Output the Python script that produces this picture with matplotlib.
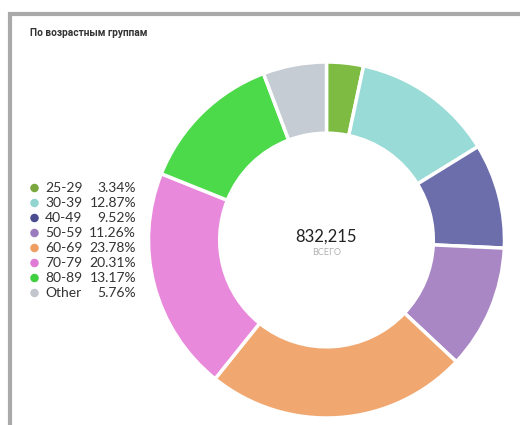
import matplotlib.pyplot as plt
from matplotlib.patches import Rectangle, Ellipse

plt.rcParams['font.family'] = ['Lato', 'DejaVu Sans']

groups = ['25-29', '30-39', '40-49', '50-59', '60-69', '70-79', '80-89', 'Other']
shares = [3.34, 12.87, 9.52, 11.26, 23.78, 20.31, 13.17, 5.76]
colors = ['#7dbb42', '#99dbd6', '#6b6eab', '#a887c4', '#f0a870', '#e889db', '#4cd94a', '#c5ccd3']
dot_colors = ['#7aa63e', '#92d4d0', '#4b4b8f', '#9a7bbd', '#ee9e62', '#e07ad6', '#3fcf3f', '#c2c6cc']
total = '832,215'
title = 'По возрастным группам'
total_label = 'ВСЕГО'

W, H = 520, 425
fig = plt.figure(figsize=(W / 100, H / 100), dpi=100)

# screenshot frame
fig.patches.append(Rectangle((10 / W, -0.05), 1.1, 1 - 14 / H + 0.05,
                             transform=fig.transFigure, facecolor='white',
                             edgecolor='#a9a9a9', linewidth=3, zorder=-5))

# donut
cx, cy, r = 326.5, 240, 178
ax = fig.add_axes([(cx - r) / W, 1 - (cy + r) / H, 2 * r / W, 2 * r / H])
ax.pie(shares, colors=colors, startangle=90, counterclock=False,
       wedgeprops=dict(width=0.40, edgecolor='white', linewidth=2.5))
ax.set_xlim(-1.0, 1.0)
ax.set_ylim(-1.0, 1.0)
ax.set_aspect('equal')
ax.axis('off')

ax.text(0, 0.02, total, ha='center', va='center', fontsize=12, color='#222222')
ax.text(0, -0.07, total_label, ha='center', va='center', fontsize=6.5, color='#b0b0b0')

fig.text(30 / W, 1 - 33 / H, title, ha='left', va='center', fontsize=7.3,
         fontweight='bold', family=['Roboto', 'DejaVu Sans'], color='#333333')

# legend
y0, dy = 188, 15
for i, (g, s) in enumerate(zip(groups, shares)):
    y = 1 - (y0 + i * dy) / H
    fig.text(45 / W, y, g, ha='left', va='center', fontsize=10, color='#333333')
    fig.text(136 / W, y, f'{s:.2f}%', ha='right', va='center', fontsize=10, color='#333333')
    fig.patches.append(Ellipse((34.5 / W, y), 8.5 / W, 8.5 / H, transform=fig.transFigure,
                               facecolor=dot_colors[i], edgecolor='none'))

fig.savefig('out.png', dpi=100)
